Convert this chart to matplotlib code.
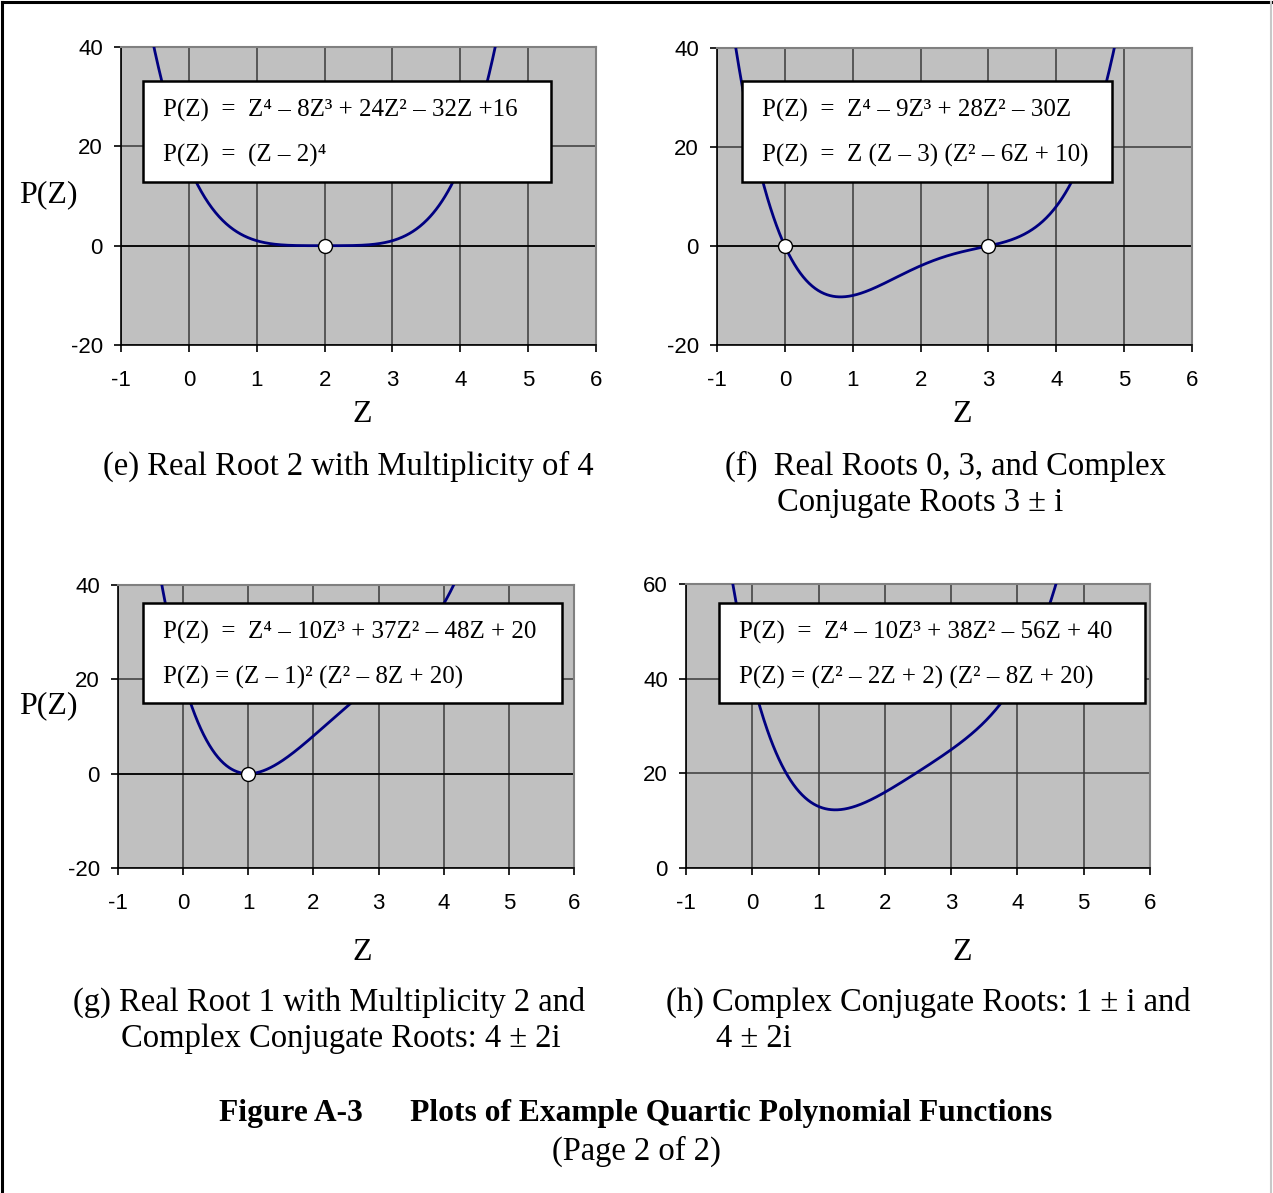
import numpy as np
import matplotlib
matplotlib.use("Agg")
import matplotlib.pyplot as plt
from matplotlib.patches import Rectangle
from matplotlib.lines import Line2D

plt.rcParams["axes.unicode_minus"] = False

W, H = 1273, 1193
SERIF = ["Liberation Serif", "DejaVu Serif"]
SANS = ["Liberation Sans", "DejaVu Sans"]

CURVE_COLOR = "#000080"
FACE = "#C0C0C0"

# polynomial coefficients (highest power first), as printed in each box
COEF_E = [1, -8, 24, -32, 16]
COEF_F = [1, -9, 28, -30, 0]
COEF_G = [1, -10, 37, -48, 20]
COEF_H = [1, -10, 38, -56, 40]

ROOTS_E = [2]
ROOTS_F = [0, 3]
ROOTS_G = [1]
ROOTS_H = []

X_TICKS = [-1, 0, 1, 2, 3, 4, 5, 6]
Y_TICKS_A = [-20, 0, 20, 40]
Y_TICKS_H = [0, 20, 40, 60]

EQ_E = ["P(Z)  =  Z⁴ – 8Z³ + 24Z² – 32Z +16", "P(Z)  =  (Z – 2)⁴"]
EQ_F = ["P(Z)  =  Z⁴ – 9Z³ + 28Z² – 30Z", "P(Z)  =  Z (Z – 3) (Z² – 6Z + 10)"]
EQ_G = ["P(Z)  =  Z⁴ – 10Z³ + 37Z² – 48Z + 20", "P(Z) = (Z – 1)² (Z² – 8Z + 20)"]
EQ_H = ["P(Z)  =  Z⁴ – 10Z³ + 38Z² – 56Z + 40", "P(Z) = (Z² – 2Z + 2) (Z² – 8Z + 20)"]

CAP_E = ["(e) Real Root 2 with Multiplicity of 4"]
CAP_F = ["(f)  Real Roots 0, 3, and Complex", "Conjugate Roots 3 ± i"]
CAP_G = ["(g) Real Root 1 with Multiplicity 2 and", "Complex Conjugate Roots: 4 ± 2i"]
CAP_H = ["(h) Complex Conjugate Roots: 1 ± i and", "4 ± 2i"]

TITLE_1 = "Figure A-3      Plots of Example Quartic Polynomial Functions"
TITLE_2 = "(Page 2 of 2)"

CAP_SIZE = 23.5


def fx(x):
    return x / W


def fy(y):
    return 1 - y / H


def make_panel(fig, rect_px, coef, roots, yticks, eqs, box_px, ylab_y, xlab_xy):
    x0, y0, x1, y1 = rect_px
    ax = fig.add_axes([fx(x0), fy(y1), (x1 - x0) / W, (y1 - y0) / H])
    ax.set_facecolor(FACE)
    z = np.linspace(-1, 6, 800)
    ax.plot(z, np.polyval(coef, z), color=CURVE_COLOR, lw=2.0, zorder=3)
    if roots:
        ax.plot(roots, np.zeros(len(roots)), "o", ms=10, mfc="white",
                mec="black", mew=1.0, zorder=4)
    ax.set_xlim(X_TICKS[0], X_TICKS[-1])
    ax.set_ylim(yticks[0], yticks[-1])
    ax.set_xticks(X_TICKS)
    ax.set_yticks(yticks)
    ax.grid(True, color="#3a3a3a", lw=1.1)
    ax.set_axisbelow(True)
    if yticks[0] < 0:
        ax.axhline(0, color="black", lw=1.2, zorder=2)
    for s in ["top", "right"]:
        ax.spines[s].set_color("#808080")
        ax.spines[s].set_linewidth(1.5)
    for s in ["left", "bottom"]:
        ax.spines[s].set_color("black")
        ax.spines[s].set_linewidth(1.2)
    ax.tick_params(axis="x", length=5, width=1.2, pad=13, labelsize=16)
    ax.tick_params(axis="y", length=5, width=1.2, pad=8, labelsize=16)
    for lab in ax.get_xticklabels() + ax.get_yticklabels():
        lab.set_family(SANS)

    # equation box
    bx0, by0, bx1, by1 = box_px
    fig.patches.append(Rectangle((fx(bx0), fy(by1)), (bx1 - bx0) / W,
                                 (by1 - by0) / H, transform=fig.transFigure,
                                 facecolor="white", edgecolor="black",
                                 lw=1.8, zorder=5))
    for i, eq in enumerate(eqs):
        fig.text(fx(bx0 + 20), fy(by0 + 29 + 45 * i), eq, family=SERIF,
                 fontsize=18, va="center", ha="left", zorder=6)

    if ylab_y is not None:
        fig.text(fx(48), fy(ylab_y), "P(Z)", family=SERIF, fontsize=23,
                 ha="center", va="center")
    fig.text(fx(xlab_xy[0]), fy(xlab_xy[1]), "Z", family=SERIF,
             fontsize=23, ha="center", va="center")
    return ax


fig = plt.figure(figsize=(W / 100, H / 100), dpi=100)

make_panel(fig, (121, 47, 596, 345), COEF_E, ROOTS_E, Y_TICKS_A, EQ_E,
           (143, 81, 551, 182), 195, (362, 415))
make_panel(fig, (717, 48, 1192, 345), COEF_F, ROOTS_F, Y_TICKS_A, EQ_F,
           (742, 81, 1112, 182), None, (962, 415))
make_panel(fig, (118, 585, 574, 868), COEF_G, ROOTS_G, Y_TICKS_A, EQ_G,
           (143, 603, 562, 703), 706, (362, 953))
make_panel(fig, (686, 584, 1150, 868), COEF_H, ROOTS_H, Y_TICKS_H, EQ_H,
           (719, 603, 1145, 703), None, (962, 953))

# captions
fig.text(fx(348), fy(466), CAP_E[0], family=SERIF, fontsize=CAP_SIZE,
         ha="center", va="center")
fig.text(fx(725), fy(466), CAP_F[0], family=SERIF, fontsize=CAP_SIZE, va="center")
fig.text(fx(777), fy(503), CAP_F[1], family=SERIF, fontsize=CAP_SIZE, va="center")
fig.text(fx(73), fy(1002), CAP_G[0], family=SERIF, fontsize=CAP_SIZE, va="center")
fig.text(fx(121), fy(1039), CAP_G[1], family=SERIF, fontsize=CAP_SIZE, va="center")
fig.text(fx(666), fy(1002), CAP_H[0], family=SERIF, fontsize=CAP_SIZE, va="center")
fig.text(fx(716), fy(1039), CAP_H[1], family=SERIF, fontsize=CAP_SIZE, va="center")

fig.text(fx(636), fy(1114), TITLE_1, family=SERIF, fontsize=22.7,
         fontweight="bold", ha="center", va="center")
fig.text(fx(636), fy(1151), TITLE_2, family=SERIF, fontsize=CAP_SIZE,
         ha="center", va="center")

# page frame
fig.lines.append(Line2D([fx(2), fx(2)], [fy(H), fy(2)], transform=fig.transFigure,
                        color="black", lw=2.2))
fig.lines.append(Line2D([fx(2), fx(W)], [fy(2), fy(2)], transform=fig.transFigure,
                        color="black", lw=2.2))
fig.lines.append(Line2D([fx(1271), fx(1271)], [fy(2), fy(H)],
                        transform=fig.transFigure, color="#c8c8c8", lw=1.5))

fig.savefig("out.png", dpi=100, facecolor="white")
